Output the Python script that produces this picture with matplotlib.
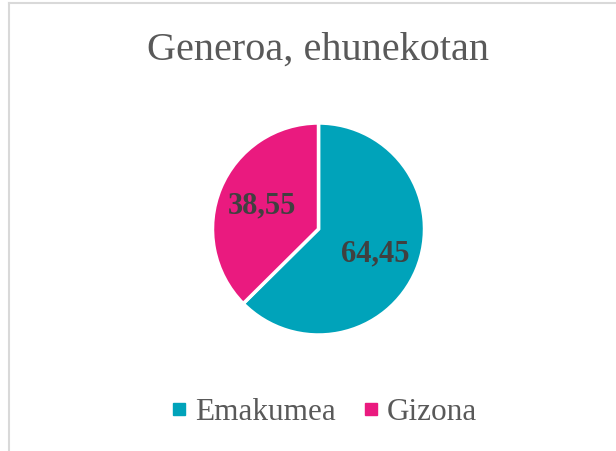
import matplotlib
matplotlib.use("Agg")
import matplotlib.pyplot as plt
from matplotlib.lines import Line2D

# Chart data
categories = ["Emakumea", "Gizona"]
values = [64.45, 38.55]
colors = ["#00A3BA", "#EA1A7F"]
title = "Generoa, ehunekotan"

TEXT_GRAY = "#595959"
LABEL_GRAY = "#404040"
SERIF = ["Liberation Serif", "DejaVu Serif"]

fig = plt.figure(figsize=(6.16, 4.52), dpi=100)
fig.patch.set_facecolor("white")

# chart frame (left and top edges visible)
fig.add_artist(Line2D([9 / 616, 9 / 616], [0, 1 - 4 / 452], transform=fig.transFigure,
                      color="#D9D9D9", lw=1.5))
fig.add_artist(Line2D([9 / 616, 1], [1 - 4 / 452, 1 - 4 / 452], transform=fig.transFigure,
                      color="#D9D9D9", lw=1.5))

cx, cy, r = 318.5, 230, 106
ax = fig.add_axes([(cx - r) / 616, (452 - cy - r) / 452, 2 * r / 616, 2 * r / 452])
labels = [f"{v:.2f}".replace(".", ",") for v in values]
wedges, texts = ax.pie(
    values, colors=colors, startangle=90, counterclock=False,
    labels=labels, labeldistance=0.58,
    wedgeprops=dict(edgecolor="white", linewidth=2.5),
    textprops=dict(fontsize=22, fontweight="bold", color=LABEL_GRAY, family=SERIF),
)
for t in texts:
    t.set_horizontalalignment("center")
    t.set_verticalalignment("center")
ax.set_xlim(-1.0, 1.0)
ax.set_ylim(-1.0, 1.0)
ax.set_aspect("equal")

fig.text(318 / 616, 1 - 50 / 452, title, ha="center", va="center",
         fontsize=29, color=TEXT_GRAY, family=SERIF)

handles = [Line2D([], [], marker="s", linestyle="none", markersize=8.6,
                  markerfacecolor=c, markeredgecolor=c) for c in colors]
fig.legend(handles, categories, loc="center", bbox_to_anchor=(325 / 616, 1 - 413 / 452),
           ncol=2, frameon=False, handlelength=0.4, handletextpad=0.3, columnspacing=0.95,
           prop=dict(family=SERIF, size=22.5))
for txt in fig.legends[0].get_texts():
    txt.set_color(TEXT_GRAY)

fig.savefig("out.png", dpi=100)
